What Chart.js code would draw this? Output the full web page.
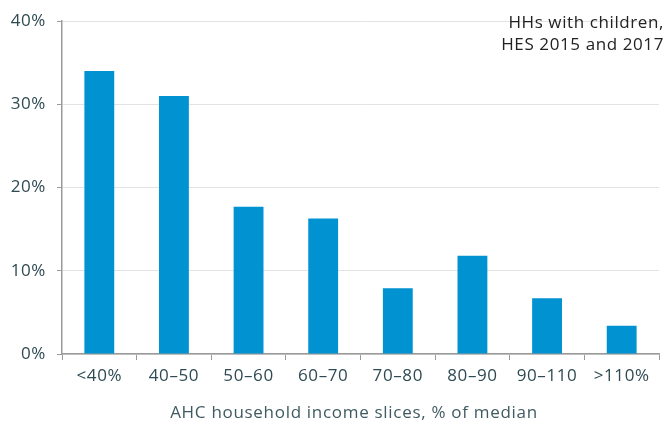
<!DOCTYPE html>
<html>
<head>
<meta charset="utf-8">
<script src="https://cdn.jsdelivr.net/npm/chart.js@4"></script>
<style>
  html, body { margin: 0; padding: 0; background: #fff; }
  #wrap { width: 672px; height: 426px; }
</style>
</head>
<body>
<div id="wrap"><canvas id="chart" width="672" height="426"></canvas></div>
<script>
const categories = ["<40%", "40\u201350", "50\u201360", "60\u201370", "70\u201380", "80\u201390", "90\u2013110", ">110%"];
const shares = [34, 31, 17.7, 16.3, 7.9, 11.8, 6.7, 3.4];
const yTicks = [0, 10, 20, 30, 40];
const noteLines = ["HHs with children,", "HES 2015 and 2017"];
const xTitle = "AHC household income slices, % of median";

const textColor = "#2e4a52";
const axisColor = "#9a9a9a";
const fontFamily = "'Open Sans', Lato, sans-serif";

// the original font runs wider than Open Sans, so space the letters a bit
const spacingPlugin = {
    id: "spacing",
    beforeUpdate(chart) { chart.ctx.letterSpacing = "0.6px"; },
    beforeDraw(chart) { chart.ctx.letterSpacing = "0.6px"; }
};

// note in the top right corner and the x axis title (sits a bit left of the plot centre)
const textPlugin = {
    id: "texts",
    afterDraw(chart) {
        const ctx = chart.ctx;
        ctx.save();
        ctx.font = "17px " + fontFamily;
        ctx.fillStyle = "#222";
        ctx.textAlign = "right";
        ctx.textBaseline = "middle";
        noteLines.forEach((line, i) => {
            ctx.fillText(line, 664, 23 + i * 22);
        });
        ctx.letterSpacing = "0.7px";
        ctx.fillStyle = "#3f5b61";
        ctx.textAlign = "center";
        ctx.fillText(xTitle, 354, 413);
        ctx.restore();
    }
};

new Chart(document.getElementById("chart"), {
    type: "bar",
    data: {
        labels: categories,
        datasets: [{
            data: shares,
            backgroundColor: "#0092d1",
            barPercentage: 0.4,
            categoryPercentage: 1
        }]
    },
    options: {
        responsive: false,
        maintainAspectRatio: false,
        animation: false,
        layout: { padding: { left: 0, right: 13, top: 20, bottom: 0 } },
        plugins: {
            legend: { display: false },
            tooltip: { enabled: false }
        },
        scales: {
            x: {
                afterFit(axis) { axis.height = 72; },
                grid: {
                    drawOnChartArea: false,
                    offset: true,
                    tickLength: 6,
                    tickColor: axisColor
                },
                border: { color: axisColor, width: 1.5 },
                ticks: {
                    color: textColor,
                    font: { family: fontFamily, size: 17 },
                    padding: 6,
                    maxRotation: 0
                }
            },
            y: {
                min: 0,
                max: 40,
                afterFit(axis) { axis.width = 62; },
                afterBuildTicks(axis) {
                    axis.ticks = yTicks.map(v => ({ value: v }));
                },
                grid: {
                    color: "#e3e3e3",
                    tickColor: axisColor,
                    tickLength: 5
                },
                border: { color: axisColor, width: 1.5 },
                ticks: {
                    color: textColor,
                    font: { family: fontFamily, size: 17 },
                    padding: 11,
                    callback: v => v + "%"
                }
            }
        }
    },
    plugins: [spacingPlugin, textPlugin]
});
</script>
</body>
</html>
